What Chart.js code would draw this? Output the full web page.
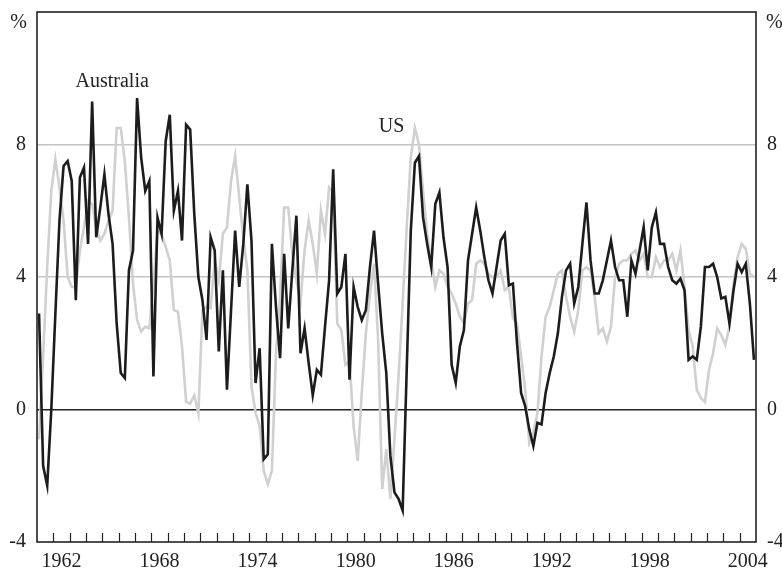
<!DOCTYPE html>
<html>
<head>
<meta charset="utf-8">
<script src="https://cdn.jsdelivr.net/npm/chart.js@4"></script>
<style>
  body { margin: 0; background: #fff; }
  #wrap { width: 782px; height: 572px; }
</style>
</head>
<body>
<div id="wrap"><canvas id="chart"></canvas></div>
<script>
// quarterly series, first quarter of 1961 to last quarter of 2004 (%)
const startYear = 1961.125;
const australia = [
  2.9, -1.7, -2.3, 0.0, 2.9, 5.7, 7.35, 7.5, 6.9, 3.3, 7.0, 7.3, 5.0, 9.3, 5.2, 6.1,
  7.1, 5.9, 5.0, 2.6, 1.1, 0.95, 4.2, 4.8, 9.4, 7.6, 6.6, 6.9, 1.0, 5.8, 5.3, 8.1,
  8.9, 6.0, 6.6, 5.1, 8.6, 8.45, 5.9, 4.0, 3.3, 2.1, 5.2, 4.8, 1.75, 4.2, 0.6, 3.0,
  5.4, 3.7, 5.0, 6.8, 5.1, 0.8, 1.85, -1.5, -1.35, 5.0, 3.1, 1.55, 4.7, 2.45, 4.2, 5.85,
  1.7, 2.45, 1.4, 0.43, 1.2, 1.05, 2.5, 3.9, 7.25, 3.5, 3.7, 4.7, 0.9, 3.7, 3.1, 2.7,
  3.0, 4.3, 5.4, 3.8, 2.3, 1.1, -1.4, -2.5, -2.7, -3.05, 1.2, 5.4, 7.45, 7.65, 5.8, 5.0,
  4.3, 6.2, 6.55, 5.2, 4.3, 1.35, 0.8, 1.9, 2.4, 4.5, 5.3, 6.1, 5.4, 4.6, 3.9, 3.5,
  4.3, 5.1, 5.3, 3.75, 3.8, 2.0, 0.5, 0.1, -0.6, -1.1, -0.4, -0.45, 0.5, 1.1, 1.6, 2.3,
  3.4, 4.2, 4.4, 3.2, 3.7, 5.0, 6.25, 4.5, 3.5, 3.5, 3.9, 4.5, 5.1, 4.3, 3.9, 3.9,
  2.8, 4.5, 4.1, 4.8, 5.5, 4.2, 5.5, 5.95, 5.0, 5.0, 4.3, 3.9, 3.8, 3.95, 3.6, 1.5,
  1.6, 1.5, 2.5, 4.3, 4.3, 4.4, 4.0, 3.35, 3.4, 2.6, 3.6, 4.4, 4.15, 4.4, 3.2, 1.5
];
const us = [
  -0.9, 1.6, 4.3, 6.6, 7.55, 6.7, 5.7, 4.0, 3.7, 3.7, 4.8, 5.5, 6.3, 6.2, 5.5, 5.1,
  5.3, 5.7, 6.0, 8.5, 8.5, 7.5, 5.8, 3.8, 2.7, 2.35, 2.5, 2.45, 3.8, 5.4, 5.3, 4.9,
  4.5, 3.0, 2.95, 1.9, 0.23, 0.18, 0.43, -0.12, 3.0, 3.1, 3.06, 4.5, 3.9, 5.3, 5.5, 6.9,
  7.65, 6.4, 5.2, 4.2, 0.7, -0.1, -0.5, -1.85, -2.25, -1.85, 1.7, 3.4, 6.1, 6.1, 4.7, 3.9,
  3.25, 4.8, 5.7, 5.0, 4.1, 6.0, 5.3, 6.7, 6.55, 2.6, 2.4, 1.35, 1.45, -0.5, -1.55, 0.5,
  2.3, 3.5, 4.4, 2.1, -2.4, -1.2, -2.7, -0.9, 1.0, 3.2, 5.5, 7.6, 8.5, 8.0, 6.6, 5.3,
  4.5, 3.7, 4.2, 4.1, 3.7, 3.5, 3.2, 2.8, 2.6, 3.2, 3.3, 4.4, 4.5, 4.4, 4.1, 4.0,
  4.0, 4.2, 3.6, 3.7, 2.75, 2.6, 1.6, 0.6, -1.0, -0.7, -0.1, 1.6, 2.8, 3.1, 3.6, 4.1,
  4.2, 3.4, 2.8, 2.35, 3.0, 4.2, 4.3, 4.2, 3.4, 2.3, 2.45, 2.05, 2.5, 4.0, 4.4, 4.5,
  4.5, 4.7, 4.8, 4.5, 4.7, 4.0, 4.0, 4.6, 4.3, 4.5, 4.5, 4.7, 4.2, 4.8, 3.7, 2.4,
  1.9, 0.6, 0.35, 0.23, 1.2, 1.7, 2.45, 2.25, 1.95, 2.5, 3.8, 4.6, 5.0, 4.85, 4.1, 4.0
];
const labelYears = [1962, 1968, 1974, 1980, 1986, 1992, 1998, 2004];
const yTicks = [-4, 0, 4, 8, 12];

const ink = '#222';
const font = { family: "'Liberation Serif', 'Times New Roman', serif", size: 20 };
const toPoints = (arr) => arr.map((v, i) => ({ x: startYear + i * 0.25, y: v }));

// frame, year ticks inside the bottom edge, and the text labels
const framePlugin = {
  id: 'frame',
  afterDraw(chart) {
    const { ctx, chartArea: a } = chart;
    const x = chart.scales.x;
    const y = chart.scales.y;
    ctx.save();
    ctx.strokeStyle = ink;
    ctx.lineWidth = 1.2;
    for (let yr = 1962; yr <= 2004; yr++) {
      const px = Math.round(x.getPixelForValue(yr)) + 0.5;
      ctx.beginPath();
      ctx.moveTo(px, a.bottom);
      ctx.lineTo(px, a.bottom - 9);
      ctx.stroke();
    }
    ctx.lineWidth = 1.6;
    ctx.strokeRect(a.left, a.top, a.right - a.left, a.bottom - a.top);

    ctx.fillStyle = ink;
    ctx.font = `${font.size}px ${font.family}`;
    ctx.textBaseline = 'middle';
    ctx.textAlign = 'right';
    ctx.fillText('%', a.left - 10, a.top + 11);
    ctx.textAlign = 'left';
    ctx.fillText('%', a.right + 10, a.top + 11);
    ctx.textAlign = 'center';
    ctx.fillText('Australia', x.getPixelForValue(1965.6), y.getPixelForValue(9.9));
    ctx.fillText('US', x.getPixelForValue(1982.7), y.getPixelForValue(8.55));
    ctx.restore();
  }
};

const gridColor = (c) => {
  const v = c.tick.value;
  if (v === 0) return ink;
  if (v === 4 || v === 8) return '#c4c4c4';
  return 'rgba(0,0,0,0)';
};

new Chart(document.getElementById('chart'), {
  type: 'line',
  data: {
    datasets: [
      { label: 'Australia', data: toPoints(australia), borderColor: '#1c1c1c', borderWidth: 2.6, pointRadius: 0 },
      { label: 'US', data: toPoints(us), borderColor: '#d0d0d0', borderWidth: 2.6, pointRadius: 0 },
    ],
  },
  options: {
    responsive: true,
    maintainAspectRatio: false,
    animation: false,
    layout: { padding: 0 },
    plugins: { legend: { display: false }, tooltip: { enabled: false } },
    scales: {
      x: {
        type: 'linear',
        min: 1961,
        max: 2005,
        afterBuildTicks: (s) => { s.ticks = labelYears.map((v) => ({ value: v + 0.5 })); },
        ticks: { callback: (v) => String(Math.floor(v)), font, color: ink, padding: 8, maxRotation: 0, autoSkip: false },
        grid: { display: false, drawTicks: false },
        border: { display: false },
        afterFit: (s) => { s.height = 30; },
      },
      y: {
        position: 'left',
        min: -4,
        max: 12,
        afterBuildTicks: (s) => { s.ticks = yTicks.map((v) => ({ value: v })); },
        ticks: { callback: (v) => (v === 12 ? '' : String(v)), font, color: ink, padding: 0 },
        grid: { drawTicks: true, tickLength: 11, tickColor: 'rgba(0,0,0,0)', color: gridColor, lineWidth: 1.4 },
        border: { display: false },
        afterFit: (s) => { s.width = 37; },
      },
      y2: {
        position: 'right',
        min: -4,
        max: 12,
        afterBuildTicks: (s) => { s.ticks = yTicks.map((v) => ({ value: v })); },
        ticks: { callback: (v) => (v === 12 ? '' : String(v)), font, color: ink, padding: 0 },
        grid: { display: false, drawTicks: true, tickLength: 11 },
        border: { display: false },
        afterFit: (s) => { s.width = 26; },
      },
    },
  },
  plugins: [framePlugin],
});
</script>
</body>
</html>
